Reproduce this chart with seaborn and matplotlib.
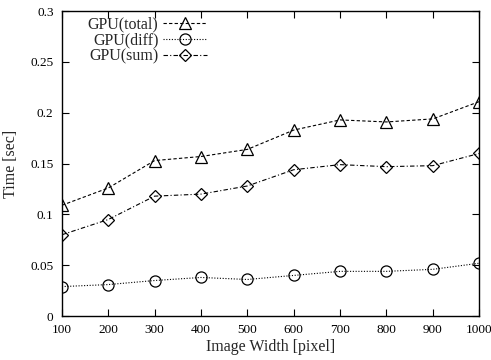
import matplotlib
matplotlib.use("Agg")
import matplotlib.pyplot as plt
import seaborn as sns
import pandas as pd

widths = [100, 200, 300, 400, 500, 600, 700, 800, 900, 1000]
gpu_total = [0.109, 0.126, 0.153, 0.157, 0.164, 0.183, 0.193, 0.191, 0.194, 0.211]
gpu_diff = [0.029, 0.031, 0.035, 0.038, 0.036, 0.040, 0.044, 0.044, 0.046, 0.052]
gpu_sum = [0.080, 0.095, 0.118, 0.120, 0.128, 0.144, 0.149, 0.147, 0.148, 0.160]

sns.set_theme(style="ticks")
plt.rcParams['font.family'] = ['Liberation Serif', 'DejaVu Serif']

fig = plt.figure(figsize=(4.91, 3.6), dpi=100)
ax = fig.add_axes([0.126, 0.122, 0.85, 0.847])

series = [
    ("GPU(total)", gpu_total, "^", (0, (3, 2))),
    ("GPU(diff)", gpu_diff, "o", (0, (1, 1.5))),
    ("GPU(sum)", gpu_sum, "D", (0, (4, 2, 1, 2))),
]
for label, vals, m, ls in series:
    df = pd.DataFrame({"w": widths, "t": vals})
    sns.lineplot(data=df, x="w", y="t", ax=ax, color="black", linewidth=0.8,
                 linestyle=ls, marker=m, markersize=8 if m != "D" else 6,
                 markerfacecolor="none", markeredgecolor="black",
                 markeredgewidth=0.9, label=label)

ax.set_xlim(100, 1000)
ax.set_ylim(0, 0.3)
ax.set_xticks(widths)
ax.set_yticks([0, 0.05, 0.1, 0.15, 0.2, 0.25, 0.3])
ax.set_yticklabels(["0", "0.05", "0.1", "0.15", "0.2", "0.25", "0.3"])
ax.tick_params(direction="in", top=True, right=True, length=5, width=0.8,
               labelsize=9.5, colors="black", pad=6)
for s in ax.spines.values():
    s.set_linewidth(1.0)
    s.set_color("black")
ax.set_xlabel("Image Width [pixel]", fontsize=11.5, labelpad=2)
ax.set_ylabel("Time [sec]", fontsize=11.5, labelpad=8)

leg = ax.legend(loc="upper left", bbox_to_anchor=(0.035, 1.02), frameon=False,
                markerfirst=False, fontsize=11.5, handlelength=2.75,
                labelspacing=0.0, handletextpad=0.3, borderpad=0.2)

fig.savefig("out.png", dpi=100)
